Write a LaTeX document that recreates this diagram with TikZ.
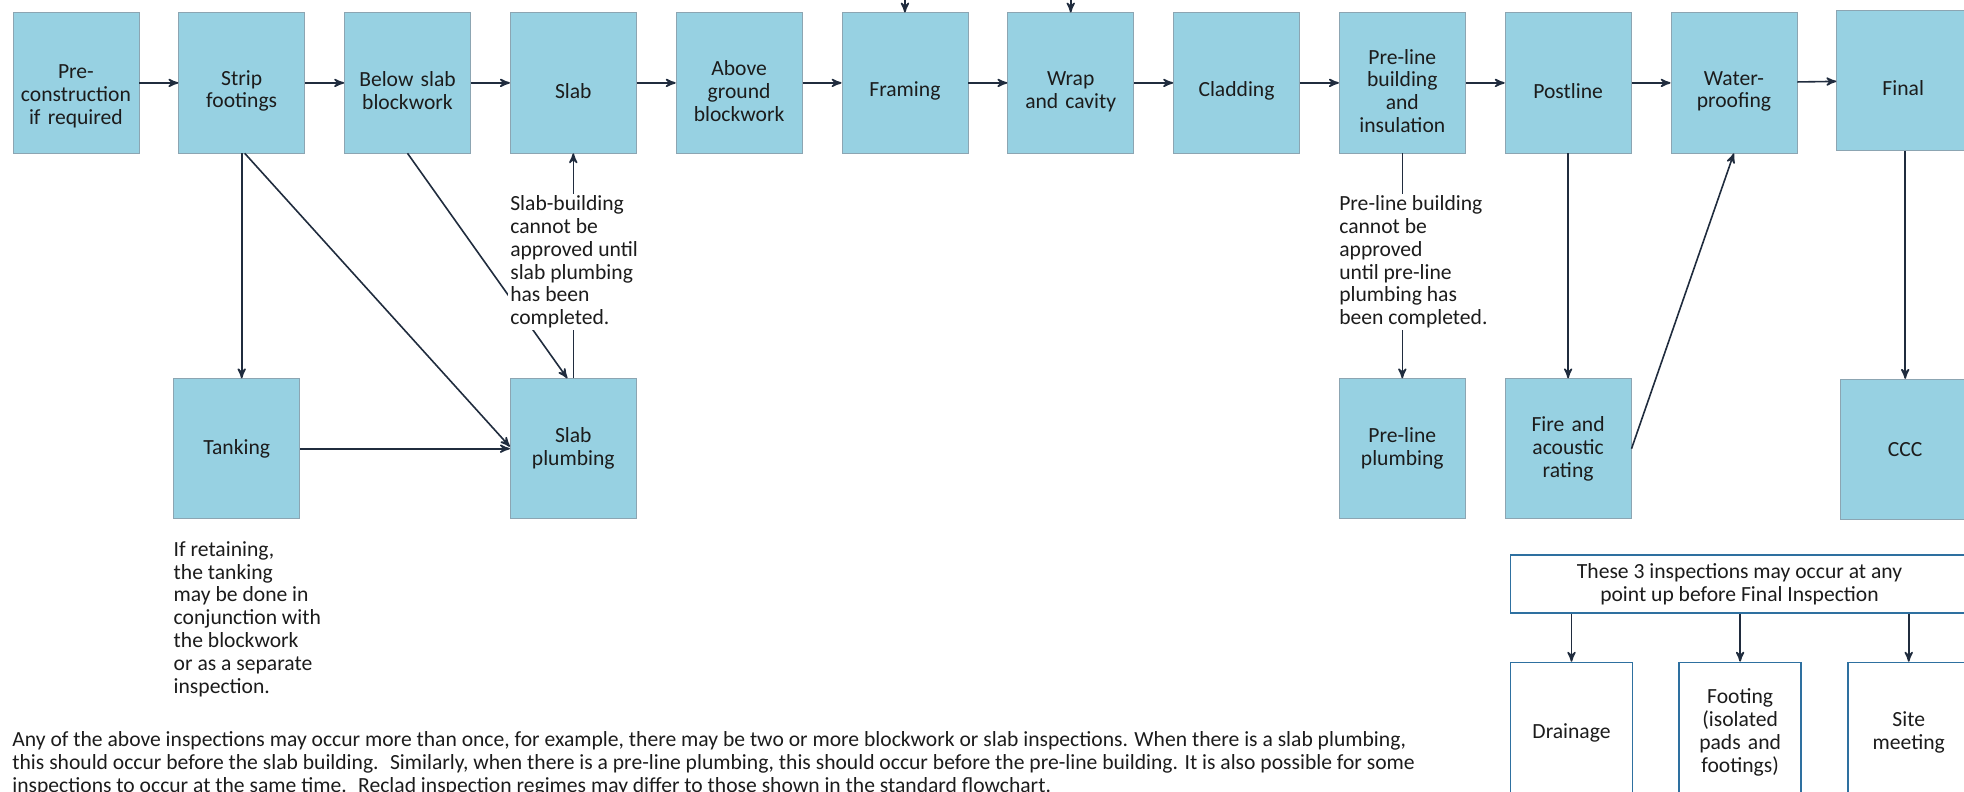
\documentclass[tikz,border=0pt]{standalone}
\usepackage{fontspec}
\setmainfont{Carlito}
\usetikzlibrary{arrows,positioning,shapes}
\definecolor{boxblue}{RGB}{151,209,226}
\definecolor{boxedge}{RGB}{140,165,178}
\definecolor{arrowink}{RGB}{32,44,62}
\definecolor{textink}{RGB}{28,28,28}
\definecolor{frameblue}{RGB}{46,112,160}
\tikzset{
    %Define standard arrow tip
    >=stealth',
    %Define style for boxes
    box/.style={
           rectangle,
           draw=boxedge, thin,
           fill=boxblue,
           text=textink,
           text width=58pt,
           inner xsep=2.5pt,
           minimum height=70pt,
           align=center},
    topbox/.style={
           box,
           execute at begin node={\rule{0pt}{15.5pt}}},
    whitebox/.style={
           rectangle,
           draw=frameblue, thick,
           fill=white,
           text=textink,
           text width=56pt,
           inner xsep=2.5pt,
           minimum height=70pt,
           align=center},
    framebox/.style={
           rectangle,
           draw=frameblue, thick,
           fill=white,
           text=textink,
           minimum width=229pt,
           minimum height=29pt,
           align=center},
    annot/.style={
           fill=white,
           text=textink,
           inner sep=1pt,
           align=left},
    % Define arrow style
    arr/.style={
           ->,
           arrowink,
           line width=0.8pt},
}

\begin{document}
\begin{tikzpicture}[font=\fontsize{10.8pt}{11.4pt}\selectfont]
  \useasboundingbox (0,0) rectangle (982pt,-396pt);
  \clip (0,0) rectangle (982pt,-396pt);
  \coordinate (top) at (0,0);

  % inspection sequence
  \node[box, anchor=north west, execute at begin node={\rule{0pt}{20.5pt}}] (precon) at (6.25pt,-6.25pt) {Pre-\\construction\\if required};
  \node[topbox, right=19.5pt of precon] (strip) {Strip\\footings};
  \node[topbox, right=19.5pt of strip] (belowslab) {Below slab\\blockwork};
  \node[topbox, right=19.5pt of belowslab] (slab) {Slab};
  \node[topbox, right=19.5pt of slab] (aboveground) {Above\\ground\\blockwork};
  \node[topbox, right=19.5pt of aboveground] (framing) {Framing};
  \node[topbox, right=19.5pt of framing] (wrap) {Wrap\\and cavity};
  \node[topbox, right=19.5pt of wrap] (cladding) {Cladding};
  \node[topbox, right=19.5pt of cladding] (preline) {Pre-line\\building\\and\\insulation};
  \node[topbox, right=19.5pt of preline] (postline) {Postline};
  \node[topbox, right=19.5pt of postline] (waterproof) {Water-\\proofing};
  \node[topbox, right=19.5pt of waterproof, text width=61.5pt, yshift=1.25pt] (final) {Final};

  % second row
  \node[box, below=112.5pt of strip, xshift=-2.5pt] (tanking) {Tanking};
  \node[box, below=112.5pt of slab] (slabplumb) {Slab\\plumbing};
  \node[box, below=112.5pt of preline] (preplumb) {Pre-line\\plumbing};
  \node[box, below=112.5pt of postline] (fire) {Fire and\\acoustic\\rating};
  \node[box, below=114pt of final, text width=59.5pt, xshift=1pt] (ccc) {CCC};

  % any time inspections
  \node[framebox, anchor=north west] (anytime) at ([xshift=2.5pt,yshift=-17.5pt]fire.south west)
    {These 3 inspections may occur at any\\point up before Final Inspection};
  \node[whitebox, anchor=north west] (drainage) at ([yshift=-24pt]anytime.south west) {Drainage};
  \node[whitebox, right=22.5pt of drainage] (footing) {Footing\\(isolated\\pads and\\footings)};
  \node[whitebox, right=22.5pt of footing] (sitemeet) {Site\\meeting};

  \path [arr] (precon) edge (strip)
              (strip) edge (belowslab)
              (belowslab) edge (slab)
              (slab) edge (aboveground)
              (aboveground) edge (framing)
              (framing) edge (wrap)
              (wrap) edge (cladding)
              (cladding) edge (preline)
              (preline) edge (postline)
              (postline) edge (waterproof)
              (waterproof) edge (final);

  \path [arr] (framing.north |- top) edge (framing)
              (wrap.north |- top) edge (wrap);

  \path [arr] (strip.south) edge (strip.south |- tanking.north)
              ([xshift=1.5pt]strip.south) edge ([yshift=1pt]slabplumb.west)
              (belowslab.south) edge ([xshift=-3pt]slabplumb.north)
              (tanking) edge (slabplumb)
              (slabplumb) edge (slab);

  \path [arr] (preline) edge (preplumb)
              (postline) edge (fire)
              (fire.east) edge (waterproof.south)
              (ccc.north |- final.south) edge (ccc);

  \path [arr] (drainage.north |- anytime.south) edge (drainage)
              (footing.north |- anytime.south) edge (footing)
              (sitemeet.north |- anytime.south) edge (sitemeet);

  % notes
  \node[annot, anchor=north west] (slabnote) at ([xshift=-1pt,yshift=-20pt]slab.south west)
    {Slab-building\\cannot be\\approved until\\slab plumbing\\has been\\completed.};
  \node[annot, anchor=north west] (prelinenote) at ([xshift=-1pt,yshift=-20pt]preline.south west)
    {Pre-line building\\cannot be\\approved\\until pre-line\\plumbing has\\been completed.};
  \node[annot, anchor=north west] (tanknote) at ([xshift=-1pt,yshift=-10pt]tanking.south west)
    {If retaining,\\the tanking\\may be done in\\conjunction with\\the blockwork\\or as a separate\\inspection.};

  \node[anchor=north west, align=left, text=textink, inner sep=0pt] (remark) at (6pt,-365.5pt)
    {Any of the above inspections may occur more than once, for example, there may be two or more blockwork or slab inspections. When there is a slab plumbing,\\
     this should occur before the slab building.~ Similarly, when there is a pre-line plumbing, this should occur before the pre-line building. It is also possible for some\\
     inspections to occur at the same time.~ Reclad inspection regimes may differ to those shown in the standard flowchart.};
\end{tikzpicture}
\end{document}
